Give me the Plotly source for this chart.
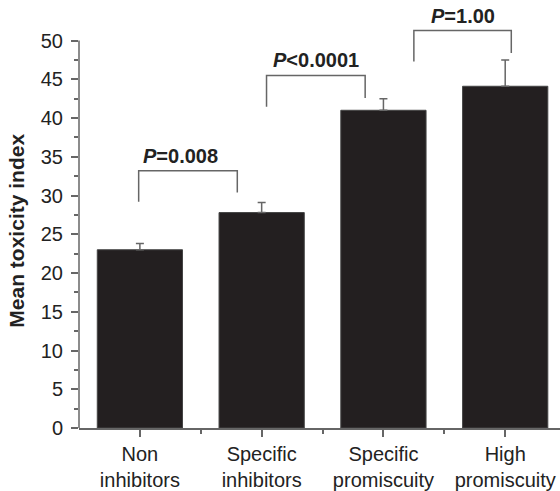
import plotly.graph_objects as go

# Mean toxicity index per inhibitor class
categories = ["Non<br>inhibitors", "Specific<br>inhibitors",
              "Specific<br>promiscuity", "High<br>promiscuity"]
mean_toxicity = [23.0, 27.8, 41.0, 44.1]
error_upper = [0.8, 1.3, 1.5, 3.4]

# Pairwise comparisons: label, bracket left/right x, bracket top, left/right drop ends
p_labels = ["<b><i>P</i>=0.008</b>", "<b><i>P</i><0.0001</b>", "<b><i>P</i>=1.00</b>"]
bracket_left = [-0.01, 1.04, 2.25]
bracket_right = [0.80, 1.85, 3.05]
bracket_top = [33.2, 45.5, 51.3]
bracket_left_end = [29.2, 41.45, 47.3]
bracket_right_end = [30.4, 42.6, 48.4]
label_x = [0.33, 1.45, 2.65]
label_y = [35.1, 47.5, 53.2]

y_major = list(range(0, 51, 5))
y_minor = [v + 2.5 for v in range(0, 50, 5)]

FONT = "Liberation Sans, Arial, sans-serif"
TEXT = "#222222"
LINE = "#666666"

x_pos = list(range(len(categories)))

fig = go.Figure()
fig.add_trace(go.Bar(
    x=x_pos, y=mean_toxicity, width=0.7,
    marker=dict(color="#231f20", line=dict(color="#444444", width=1)),
    error_y=dict(type="data", symmetric=False, array=error_upper,
                 arrayminus=[0] * len(error_upper),
                 color=LINE, thickness=1.5, width=4),
    showlegend=False, hoverinfo="skip",
))

for i in range(len(p_labels)):
    fig.add_trace(go.Scatter(
        x=[bracket_left[i], bracket_left[i], bracket_right[i], bracket_right[i]],
        y=[bracket_left_end[i], bracket_top[i], bracket_top[i], bracket_right_end[i]],
        mode="lines", line=dict(color=LINE, width=1.5),
        showlegend=False, hoverinfo="skip", cliponaxis=False,
    ))
    fig.add_annotation(x=label_x[i], y=label_y[i], text=p_labels[i],
                       showarrow=False, xanchor="center", yanchor="middle",
                       font=dict(family=FONT, size=20, color=TEXT))

# y-axis spine stops at 50
fig.add_shape(type="line", xref="paper", yref="y", x0=0, x1=0, y0=0, y1=50,
              line=dict(color=LINE, width=1.5), layer="above")

fig.add_annotation(xref="paper", yref="paper", x=-0.129, y=0.461,
                   text="<b>Mean toxicity index</b>", textangle=-90,
                   showarrow=False, xanchor="center", yanchor="middle",
                   font=dict(family=FONT, size=21, color=TEXT))

fig.update_xaxes(
    range=[-0.5, 3.45], tickmode="array", tickvals=x_pos, ticktext=categories,
    ticks="outside", ticklen=7, tickwidth=1.5, tickcolor=LINE,
    showline=True, linecolor=LINE, linewidth=1.5, showgrid=False, zeroline=False,
    tickfont=dict(family=FONT, size=20, color=TEXT),
    minor=dict(tickmode="array", tickvals=[0.5, 1.5, 2.5], ticks="outside",
               ticklen=4, tickwidth=1.5, tickcolor=LINE, showgrid=False),
)
fig.update_yaxes(
    range=[0, 55.23], tickmode="array", tickvals=y_major,
    ticks="outside", ticklen=7, tickwidth=1.5, tickcolor=LINE,
    showline=False, showgrid=False, zeroline=False,
    tickfont=dict(family=FONT, size=20, color=TEXT), ticklabelstandoff=4,
    minor=dict(tickmode="array", tickvals=y_minor, ticks="outside",
               ticklen=4, tickwidth=1.5, tickcolor=LINE, showgrid=False),
)

fig.update_layout(
    width=560, height=491,
    margin=dict(l=79, r=0, t=0, b=58),
    plot_bgcolor="white", paper_bgcolor="white",
    bargap=0.3,
    font=dict(family=FONT, color=TEXT),
)

fig.write_html("out.html")
